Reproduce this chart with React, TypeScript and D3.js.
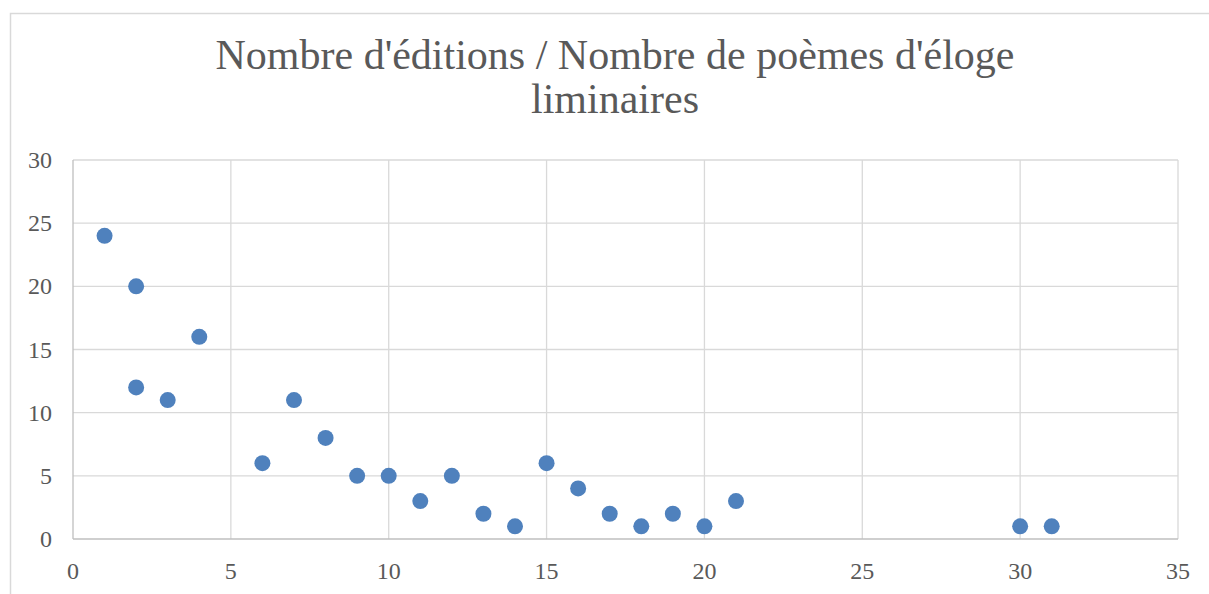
import * as d3 from 'd3';
import React, { useEffect, useRef } from 'react';

const editions = [1, 2, 2, 3, 4, 6, 7, 8, 9, 10, 11, 12, 13, 14, 15, 16, 17, 18, 19, 20, 21, 30, 31];
const poems = [24, 20, 12, 11, 16, 6, 11, 8, 5, 5, 3, 5, 2, 1, 6, 4, 2, 1, 2, 1, 3, 1, 1];
const xTicks = [0, 5, 10, 15, 20, 25, 30, 35];
const yTicks = [0, 5, 10, 15, 20, 25, 30];
const titleLines = ["Nombre d'éditions / Nombre de poèmes d'éloge", 'liminaires'];

const W = 1209, H = 594;
const FONT = "'Palatino Linotype', 'Book Antiqua', 'Liberation Serif', serif";

export default function App() {
  const ref = useRef<SVGSVGElement>(null);

  useEffect(() => {
    const svg = d3.select(ref.current);
    svg.selectAll('*').remove();

    const margin = { top: 160, left: 73, right: 31, bottom: 55 };

    // chart frame
    svg.append('rect')
      .attr('x', 10.5).attr('y', 13.5)
      .attr('width', W + 10).attr('height', H)
      .attr('fill', '#fff').attr('stroke', '#d9d9d9').attr('stroke-width', 1.5);

    const x = d3.scaleLinear().domain([0, 35]).range([margin.left, W - margin.right]);
    const y = d3.scaleLinear().domain([0, 30]).range([H - margin.bottom, margin.top]);

    // grid
    svg.append('g').selectAll('line.v')
      .data(xTicks.slice(1)).enter().append('line')
      .attr('x1', d => x(d)).attr('x2', d => x(d))
      .attr('y1', y(0)).attr('y2', y(30))
      .attr('stroke', '#d9d9d9').attr('stroke-width', 1.3);

    svg.append('g').selectAll('line.h')
      .data(yTicks.slice(1)).enter().append('line')
      .attr('x1', x(0)).attr('x2', x(35))
      .attr('y1', d => y(d)).attr('y2', d => y(d))
      .attr('stroke', '#d9d9d9').attr('stroke-width', 1.3);

    // axes lines
    svg.append('line')
      .attr('x1', x(0)).attr('x2', x(0)).attr('y1', y(0)).attr('y2', y(30))
      .attr('stroke', '#bfbfbf').attr('stroke-width', 1.3);
    svg.append('line')
      .attr('x1', x(0)).attr('x2', x(35)).attr('y1', y(0)).attr('y2', y(0))
      .attr('stroke', '#bfbfbf').attr('stroke-width', 1.3);

    // tick labels
    svg.append('g').selectAll('text')
      .data(xTicks).enter().append('text')
      .attr('x', d => x(d)).attr('y', y(0) + 40)
      .attr('text-anchor', 'middle')
      .attr('font-family', FONT).attr('font-size', 24).attr('fill', '#595959')
      .text(d => d);

    svg.append('g').selectAll('text')
      .data(yTicks).enter().append('text')
      .attr('x', x(0) - 21).attr('y', d => y(d) + 8)
      .attr('text-anchor', 'end')
      .attr('font-family', FONT).attr('font-size', 24).attr('fill', '#595959')
      .text(d => d);

    // title
    svg.append('g').selectAll('text')
      .data(titleLines).enter().append('text')
      .attr('x', 615).attr('y', (d, i) => 69 + i * 44)
      .attr('text-anchor', 'middle')
      .attr('font-family', FONT).attr('font-size', 42).attr('fill', '#595959')
      .text(d => d);

    // points
    svg.append('g').selectAll('circle')
      .data(editions.map((e, i) => ({ e, p: poems[i] }))).enter().append('circle')
      .attr('cx', d => x(d.e)).attr('cy', d => y(d.p))
      .attr('r', 8)
      .attr('fill', '#4f81bd');
  }, []);

  return (
    <svg ref={ref} width={W} height={H}
      style={{ position: 'absolute', left: 0, top: 0, background: '#fff' }} />
  );
}
